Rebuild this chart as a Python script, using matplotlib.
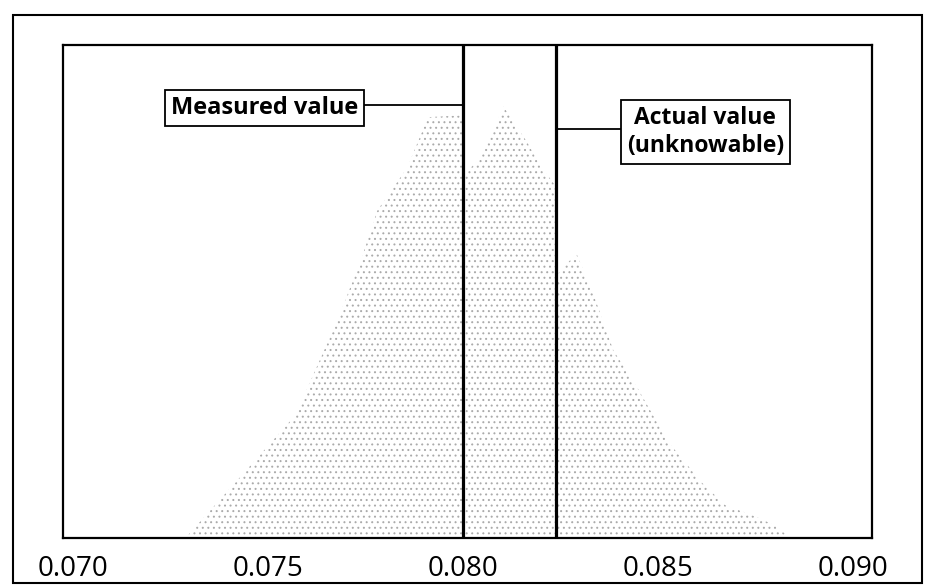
import matplotlib.pyplot as plt
from matplotlib.patches import Rectangle

plt.rcParams["font.family"] = ["Open Sans", "DejaVu Sans"]
plt.rcParams["hatch.linewidth"] = 0.7

# outline of the stippled distribution: value and relative height (0-100)
dist_x = [0.07288, 0.07429, 0.07570, 0.07673, 0.07737, 0.07781, 0.07857,
          0.07911, 0.08000, 0.08000, 0.08040, 0.08078, 0.08104, 0.08127,
          0.08165, 0.08198, 0.08240, 0.08240, 0.08291, 0.08334, 0.08386,
          0.08447, 0.08527, 0.08614, 0.08673, 0.08742, 0.08801, 0.08840]
dist_h = [0.0, 12.4, 24.9, 43.2, 56.0, 66.5, 75.1,
          85.4, 85.8, 73.6, 76.7, 82.8, 87.6, 84.8,
          80.3, 75.7, 71.2, 53.3, 57.8, 49.7, 38.1,
          30.6, 19.5, 11.2, 6.7, 4.7, 2.6, 0.0]

measured_value = 0.0800
actual_value = 0.0824

tick_values = [0.070, 0.075, 0.080, 0.085, 0.090]
tick_labels = ["0.070", "0.075", "0.080", "0.085", "0.090"]

measured_label = "Measured value"
actual_label = "Actual value\n(unknowable)"

fig = plt.figure(figsize=(9.28, 5.87), dpi=100)
ax = fig.add_axes([0.068, 0.083, 0.872, 0.840])

ax.fill_between(dist_x, 0, dist_h, facecolor="white", edgecolor="#ababab",
                hatch="...", linewidth=0, zorder=1)

ax.axvline(measured_value, color="black", linewidth=2.3, zorder=3)
ax.axvline(actual_value, color="black", linewidth=2.3, zorder=3)

box = dict(boxstyle="square,pad=0.25", facecolor="white", edgecolor="black", linewidth=1.3)

# measured value label with leader line
ax.plot([0.07491, measured_value], [87.8, 87.8], color="black", linewidth=1.3, zorder=2)
ax.text(0.07491, 87.2, measured_label, ha="center", va="center", fontsize=17,
        fontweight="bold", bbox=box, zorder=4)

# actual value label with leader line
ax.plot([actual_value, 0.08622], [83.0, 83.0], color="black", linewidth=1.3, zorder=2)
ax.text(0.08622, 82.4, actual_label, ha="center", va="center", fontsize=16.5,
        fontweight="bold", linespacing=1.2, bbox=box, zorder=4)

ax.set_xlim(0.06975, 0.0905)
ax.set_ylim(0, 100)
ax.set_yticks([])
ax.set_xticks(tick_values, tick_labels)
ax.tick_params(axis="x", length=0, pad=12, labelsize=20)
for spine in ax.spines.values():
    spine.set_linewidth(1.6)

# outer frame around the whole figure
fig.patches.append(Rectangle((0.014, 0.007), 0.9795, 0.967, transform=fig.transFigure,
                             fill=False, edgecolor="black", linewidth=1.5))

fig.savefig("out.png", dpi=100)
